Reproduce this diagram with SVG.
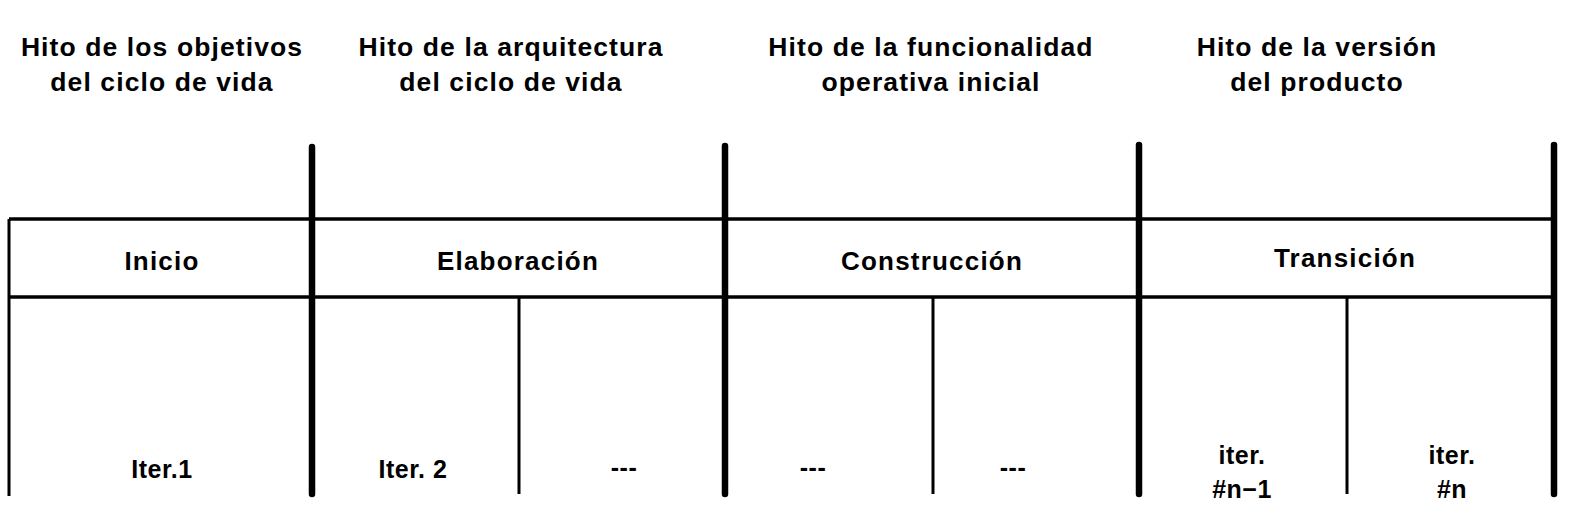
<svg xmlns="http://www.w3.org/2000/svg" width="1570" height="514" viewBox="0 0 1570 514">
<style>
text{font-family:"Liberation Sans",Arial,sans-serif;font-weight:bold;fill:#000;text-anchor:middle}
.h{font-size:26.5px;letter-spacing:1.1px}
.p{font-size:26px;letter-spacing:1.2px}
.i{font-size:25px;letter-spacing:0.5px}
.thick{stroke:#000;stroke-width:6.5;stroke-linecap:round;fill:none}
.mid{stroke:#000;stroke-width:3.5;fill:none}
.thin{stroke:#000;stroke-width:3;fill:none}
</style>
<rect width="1570" height="514" fill="#fff"/>
<g id="connectors">
<line class="mid" x1="9" y1="219" x2="1554" y2="219"/>
<line class="mid" x1="9" y1="297" x2="1554" y2="297"/>
<line class="thin" x1="9" y1="219" x2="9" y2="496"/>
<line class="thick" x1="312" y1="147" x2="312" y2="494"/>
<line class="thick" x1="725" y1="146" x2="725" y2="494"/>
<line class="thick" x1="1139" y1="145" x2="1139" y2="494"/>
<line class="thick" x1="1554" y1="145" x2="1554" y2="494"/>
<line class="thin" x1="519" y1="297" x2="519" y2="494"/>
<line class="thin" x1="933" y1="297" x2="933" y2="494"/>
<line class="thin" x1="1347" y1="297" x2="1347" y2="494"/>
</g>
<g id="hito1"><text class="h" x="162" y="56">Hito de los objetivos</text><text class="h" x="162" y="91">del ciclo de vida</text></g>
<g id="hito2"><text class="h" x="511" y="56">Hito de la arquitectura</text><text class="h" x="511" y="91">del ciclo de vida</text></g>
<g id="hito3"><text class="h" x="931" y="56">Hito de la funcionalidad</text><text class="h" x="931" y="91">operativa inicial</text></g>
<g id="hito4"><text class="h" x="1317" y="56">Hito de la versión</text><text class="h" x="1317" y="91">del producto</text></g>
<g id="inicio"><text class="p" x="162" y="270">Inicio</text></g>
<g id="elaboracion"><text class="p" x="518" y="270">Elaboración</text></g>
<g id="construccion"><text class="p" x="932" y="270">Construcción</text></g>
<g id="transicion"><text class="p" x="1345" y="267">Transición</text></g>
<g id="iter1"><text class="i" x="162" y="478">Iter.1</text></g>
<g id="iter2"><text class="i" x="413" y="478">Iter. 2</text></g>
<g id="dots1"><text class="i" x="624" y="476">---</text></g>
<g id="dots2"><text class="i" x="813" y="476">---</text></g>
<g id="dots3"><text class="i" x="1013" y="476">---</text></g>
<g id="itern1"><text class="i" x="1242" y="464">iter.</text><text class="i" x="1242" y="498">#n−1</text></g>
<g id="itern"><text class="i" x="1452" y="464">iter.</text><text class="i" x="1452" y="498">#n</text></g>
</svg>
